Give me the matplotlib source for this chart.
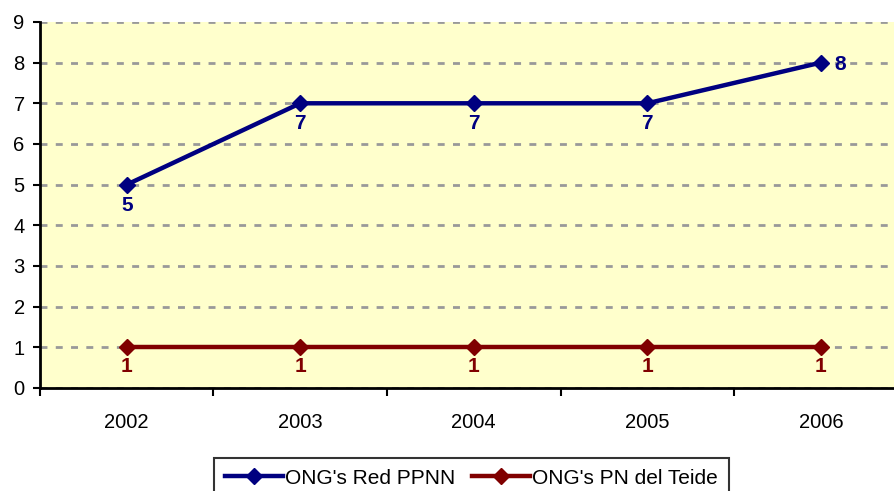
import matplotlib.pyplot as plt
from matplotlib.ticker import FixedLocator

plt.rcParams["font.family"] = ["Liberation Sans", "DejaVu Sans"]

years = ["2002", "2003", "2004", "2005", "2006"]
red_ppnn = [5, 7, 7, 7, 8]
pn_teide = [1, 1, 1, 1, 1]

blue = "#000080"
dred = "#800000"

fig = plt.figure(figsize=(8.94, 4.91), dpi=100)
ax = fig.add_axes([0.0447, 0.2098, 0.9705, 0.7455])
ax.set_facecolor("#FFFFCC")

x = list(range(len(years)))
ax.plot(x, red_ppnn, color=blue, lw=3.2, marker="D", ms=8, label="ONG's Red PPNN", zorder=3)
ax.plot(x, pn_teide, color=dred, lw=3.2, marker="D", ms=8, label="ONG's PN del Teide", zorder=3)

# etiquetas de datos
for i, v in enumerate(red_ppnn):
    if i == len(red_ppnn) - 1:
        ax.annotate(str(v), (i, v), xytext=(10, -1), textcoords="offset points",
                    ha="left", va="center", color=blue, fontweight="bold", fontsize=15)
    else:
        ax.annotate(str(v), (i, v), xytext=(0, -8), textcoords="offset points",
                    ha="center", va="top", color=blue, fontweight="bold", fontsize=15)
for i, v in enumerate(pn_teide):
    ax.annotate(str(v), (i, v), xytext=(0, -7), textcoords="offset points",
                ha="center", va="top", color=dred, fontweight="bold", fontsize=15)

ax.set_xlim(-0.5, 4.5)
ax.set_ylim(0, 9)
ax.set_yticks(range(0, 10))
ax.set_xticks(x)
ax.set_xticklabels(years)
ax.xaxis.set_minor_locator(FixedLocator([i + 0.5 for i in range(-1, 5)]))
ax.tick_params(axis="x", which="major", length=0, pad=18, labelsize=14.5)
ax.tick_params(axis="x", which="minor", length=6, width=1.5, direction="out")
ax.tick_params(axis="y", length=5, width=1.5, labelsize=14.5, pad=6)

ax.yaxis.grid(True, color="#999999", ls=(0, (2.5, 3)), lw=2)
ax.set_axisbelow(True)
ax.spines["top"].set_visible(False)
ax.spines["right"].set_visible(False)
ax.spines["left"].set_linewidth(2)
ax.spines["bottom"].set_linewidth(2)

leg = fig.legend(loc="upper center", bbox_to_anchor=(0.5274, 0.067), ncol=2, frameon=True,
                 fancybox=False, edgecolor="black", fontsize=15, handlelength=2.8,
                 handletextpad=0.1, columnspacing=0.8, borderpad=0.5, borderaxespad=0)
leg.get_frame().set_linewidth(1.5)

fig.savefig("out.png", dpi=100)
